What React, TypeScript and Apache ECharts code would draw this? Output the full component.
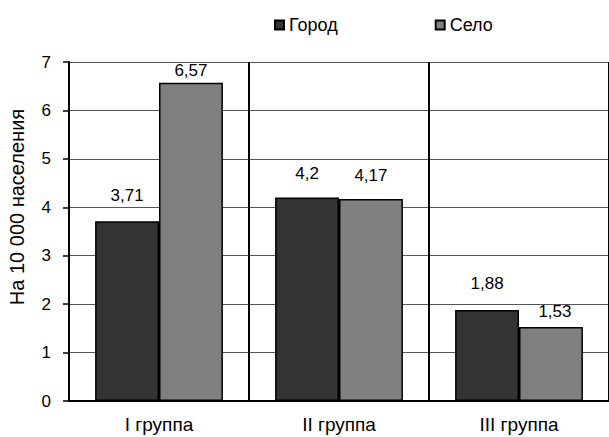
import React, { useEffect, useRef } from "react";
import * as echarts from "echarts";

// Groups on the category axis
const categories: string[] = ["I группа", "II группа", "III группа"];

// Rate per 10 000 population
const cityValues: number[] = [3.71, 4.2, 1.88];
const villageValues: number[] = [6.57, 4.17, 1.53];

const seriesNames: string[] = ["Город", "Село"];
const yAxisTitle = "На 10 000 населения";

// Value-axis scale
const yMin = 0;
const yMax = 7;
const yStep = 1;

// Per-bar spacing between the bar top and its value label
const cityLabelGaps = [17, 16, 17.5];
const villageLabelGaps = [4, 15.5, 7];
const villageLabelShift = [0, 0, 4];

const FONT = "'Liberation Sans', Arial, sans-serif";

const commaFormat = (v: number) => String(v).replace(".", ",");

export default function App() {
  const ref = useRef<HTMLDivElement>(null);

  useEffect(() => {
    if (!ref.current) return;
    const chart = echarts.init(ref.current, undefined, { renderer: "svg" });

    const makeData = (values: number[], gaps: number[], shifts?: number[]) =>
      values.map((v, i) => ({
        value: v,
        label: { distance: gaps[i], offset: [shifts ? shifts[i] : 0, 0] },
      }));

    const labelStyle = {
      show: true,
      position: "top" as const,
      fontFamily: FONT,
      fontSize: 17,
      color: "#000",
      formatter: (p: any) => commaFormat(p.value),
    };

    chart.setOption({
      animation: false,
      backgroundColor: "#ffffff",
      textStyle: { fontFamily: FONT },
      legend: {
        data: seriesNames,
        left: 269,
        top: 11,
        icon: "rect",
        itemWidth: 9,
        itemHeight: 9,
        itemGap: 97,
        textStyle: { fontFamily: FONT, fontSize: 18, color: "#000" },
      },
      graphic: [
        {
          type: "text",
          x: 17,
          y: 207,
          rotation: Math.PI / 2,
          style: {
            text: yAxisTitle,
            fontFamily: FONT,
            fontSize: 20,
            fill: "#000",
            align: "center",
            verticalAlign: "middle",
          },
        },
      ],
      grid: { left: 69, right: -2, top: 62, bottom: 36, containLabel: false },
      xAxis: {
        type: "category",
        data: categories,
        boundaryGap: true,
        axisLine: { show: true, lineStyle: { color: "#000", width: 2 } },
        axisTick: { show: false },
        axisLabel: {
          fontFamily: FONT,
          fontSize: 19,
          color: "#000",
          margin: 14,
          interval: 0,
        },
        splitLine: {
          show: true,
          interval: 0,
          lineStyle: { color: "#000", width: 2 },
        },
      },
      yAxis: {
        type: "value",
        min: yMin,
        max: yMax,
        interval: yStep,
        axisLine: { show: true, lineStyle: { color: "#000", width: 2 } },
        axisTick: { show: true, inside: false, length: 6, lineStyle: { color: "#000", width: 1.5 } },
        axisLabel: {
          fontFamily: FONT,
          fontSize: 17,
          color: "#000",
          margin: 18,
        },
        splitLine: { show: true, lineStyle: { color: "#555555", width: 1 } },
      },
      series: [
        {
          name: seriesNames[0],
          type: "bar",
          data: makeData(cityValues, cityLabelGaps),
          barGap: "0%",
          barCategoryGap: "29%",
          itemStyle: { color: "#333333", borderColor: "#000", borderWidth: 1.5 },
          label: labelStyle,
        },
        {
          name: seriesNames[1],
          type: "bar",
          data: makeData(villageValues, villageLabelGaps, villageLabelShift),
          barGap: "0%",
          barCategoryGap: "29%",
          itemStyle: { color: "#808080", borderColor: "#000", borderWidth: 1.5 },
          label: labelStyle,
        },
      ],
    });

    return () => chart.dispose();
  }, []);

  return (
    <div
      ref={ref}
      style={{ position: "fixed", left: 0, top: 0, width: 609, height: 437, background: "#fff" }}
    />
  );
}
